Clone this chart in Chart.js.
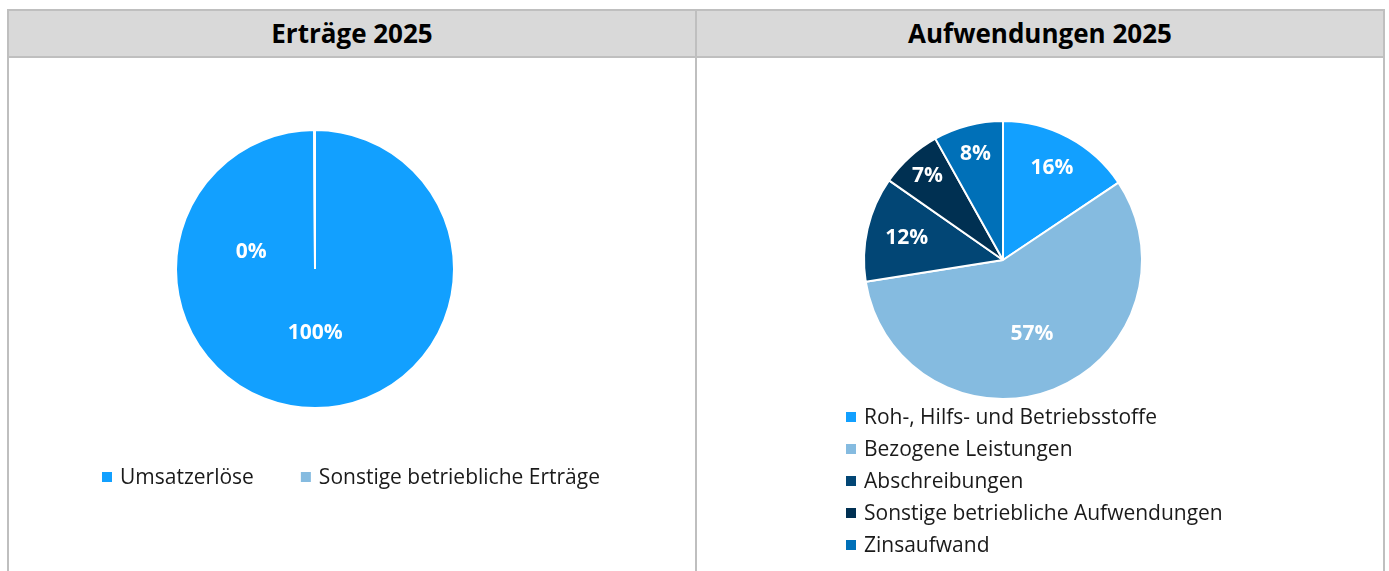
<!DOCTYPE html>
<html>
<head>
<meta charset="utf-8">
<script src="https://cdn.jsdelivr.net/npm/chart.js@4/dist/chart.umd.min.js"></script>
<style>
  body { margin: 0; background: #fff; width: 1389px; height: 571px; overflow: hidden; position: relative; font-family: "Open Sans", sans-serif; }
  .head { position: absolute; left: 7px; top: 9px; width: 1378px; height: 49px; box-sizing: border-box; border: 2px solid #bfbfbf; background: #d9d9d9; }
  .vline { position: absolute; top: 9px; width: 2px; height: 600px; background: #bfbfbf; }
  .title { position: absolute; top: 11px; height: 45px; line-height: 45px; text-align: center; font-weight: 700; font-size: 26px; color: #000; }
  canvas { position: absolute; top: 58px; }
</style>
</head>
<body>
<div class="head"></div>
<div class="vline" style="left:7px"></div>
<div class="vline" style="left:695px"></div>
<div class="vline" style="left:1383px"></div>
<div class="title" style="left:9px;width:686px">Erträge 2025</div>
<div class="title" style="left:697px;width:686px">Aufwendungen 2025</div>
<canvas id="ertraege" width="686" height="513" style="left:9px"></canvas>
<canvas id="aufwand" width="686" height="513" style="left:697px"></canvas>
<script>
var ertragLabels = ["Umsatzerlöse", "Sonstige betriebliche Erträge"];
var ertragValues = [100, 0.1];
var ertragColors = ["#12a0ff", "#85bbe0"];

var aufwandLabels = ["Roh-, Hilfs- und Betriebsstoffe", "Bezogene Leistungen", "Abschreibungen", "Sonstige betriebliche Aufwendungen", "Zinsaufwand"];
var aufwandValues = [15.6, 56.9, 12.2, 7.2, 8.1];
var aufwandColors = ["#12a0ff", "#85bbe0", "#024675", "#003052", "#0070b8"];

// percentage labels inside the slices
var pctLabels = {
  id: 'pctLabels',
  afterDatasetsDraw: function(chart, args, opts) {
    var ctx = chart.ctx;
    var ds = chart.data.datasets[0];
    var total = ds.data.reduce(function(a, b) { return a + b; }, 0);
    ctx.save();
    ctx.font = 'bold 21px "Open Sans"';
    ctx.fillStyle = '#fff';
    ctx.textAlign = 'center';
    ctx.textBaseline = 'middle';
    chart.getDatasetMeta(0).data.forEach(function(arc, i) {
      var p = arc.getProps(['x', 'y', 'startAngle', 'endAngle', 'outerRadius'], true);
      var a = (p.startAngle + p.endAngle) / 2;
      if (opts.angle && opts.angle[i] != null) a = opts.angle[i] * Math.PI / 180;
      var r = p.outerRadius * opts.radius[i];
      ctx.fillText(Math.round(ds.data[i] / total * 100) + '%', p.x + Math.cos(a) * r, p.y + Math.sin(a) * r);
    });
    ctx.restore();
  }
};

// excel-like legend, either in one row or in a column
var sheetLegend = {
  id: 'sheetLegend',
  afterDraw: function(chart, args, opts) {
    var ctx = chart.ctx;
    var ds = chart.data.datasets[0];
    ctx.save();
    ctx.font = '21px "Open Sans"';
    ctx.textBaseline = 'middle';
    ctx.textAlign = 'left';
    var x = opts.x, y = opts.y;
    chart.data.labels.forEach(function(lbl, i) {
      ctx.fillStyle = ds.backgroundColor[i];
      ctx.fillRect(x, y - 5, 10, 10);
      ctx.fillStyle = '#1a1a1a';
      ctx.fillText(lbl, x + 18, y + 1);
      if (opts.vertical) {
        y += opts.step;
      } else {
        x += 18 + ctx.measureText(lbl).width + opts.gap;
      }
    });
    ctx.restore();
  }
};

function pieChart(id, labels, values, colors, pad, labelOpts, legendOpts) {
  return new Chart(document.getElementById(id), {
    type: 'pie',
    data: {
      labels: labels,
      datasets: [{
        data: values,
        backgroundColor: colors,
        borderColor: '#ffffff',
        borderWidth: 2
      }]
    },
    options: {
      responsive: false,
      animation: false,
      layout: { padding: pad },
      plugins: {
        legend: { display: false },
        tooltip: { enabled: false },
        pctLabels: labelOpts,
        sheetLegend: legendOpts
      }
    },
    plugins: [pctLabels, sheetLegend]
  });
}

pieChart('ertraege', ertragLabels, ertragValues, ertragColors,
  { left: 166, right: 240, top: 71, bottom: 162 },
  { radius: [0.46, 0.475], angle: [null, -165] },
  { x: 93, y: 419, gap: 47, vertical: false });

pieChart('aufwand', aufwandLabels, aufwandValues, aufwandColors,
  { left: 166, right: 240, top: 62, bottom: 171 },
  { radius: [0.75, 0.57, 0.71, 0.81, 0.79] },
  { x: 149, y: 359, step: 32, vertical: true });
</script>
</body>
</html>
